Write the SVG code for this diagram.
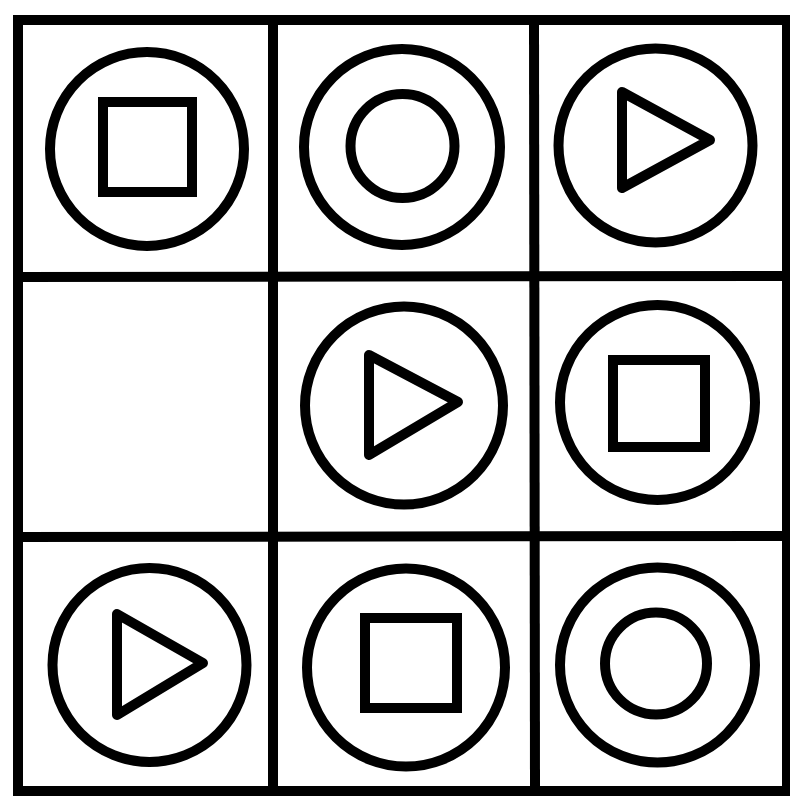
<svg xmlns="http://www.w3.org/2000/svg" width="790" height="796" viewBox="0 0 790 796">
<style>
.g{fill:none;stroke:#000;stroke-width:10}
.s{fill:none;stroke:#000;stroke-width:10}
.t{fill:none;stroke:#000;stroke-width:10;stroke-linejoin:round}
</style>
<rect width="790" height="796" fill="#fff"/>
<g id="grid">
<rect class="g" x="18" y="20" width="769" height="771"/>
<line class="g" x1="273" y1="20" x2="273" y2="791"/>
<line class="g" x1="534" y1="20" x2="535" y2="791"/>
<line class="g" x1="18" y1="277" x2="787" y2="276"/>
<line class="g" x1="18" y1="537" x2="787" y2="536"/>
</g>
<g id="cell-0-0">
<circle class="s" cx="147" cy="149" r="97"/>
<rect class="s" x="103" y="102" width="89" height="90"/>
</g>
<g id="cell-0-1">
<circle class="s" cx="402" cy="147" r="98"/>
<circle class="s" cx="402.5" cy="146" r="52"/>
</g>
<g id="cell-0-2">
<circle class="s" cx="655.5" cy="145.5" r="97"/>
<polygon class="t" points="622,92 710,140 622,188"/>
</g>
<g id="cell-1-0"></g>
<g id="cell-1-1">
<circle class="s" cx="404" cy="405.5" r="99"/>
<polygon class="t" points="369,355 458,402 369,455"/>
</g>
<g id="cell-1-2">
<circle class="s" cx="657.5" cy="402.5" r="97.5"/>
<rect class="s" x="613" y="360" width="92" height="87"/>
</g>
<g id="cell-2-0">
<circle class="s" cx="149.5" cy="665" r="97"/>
<polygon class="t" points="117,614 203,663 117,715"/>
</g>
<g id="cell-2-1">
<circle class="s" cx="406" cy="667.5" r="99"/>
<rect class="s" x="365" y="618" width="92" height="90"/>
</g>
<g id="cell-2-2">
<circle class="s" cx="657.5" cy="665" r="97.5"/>
<circle class="s" cx="656" cy="663.5" r="51"/>
</g>
</svg>
